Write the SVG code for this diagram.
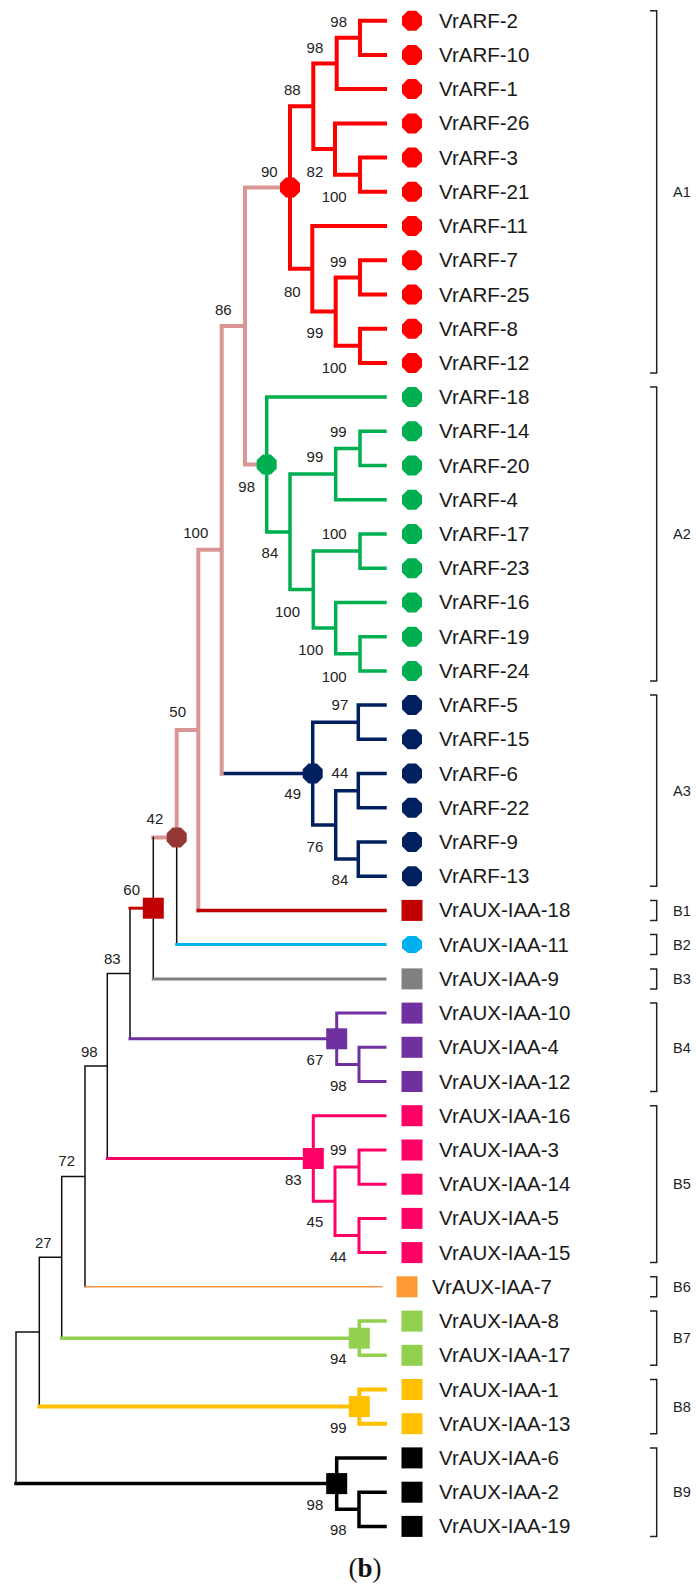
<svg xmlns="http://www.w3.org/2000/svg" width="696" height="1585" viewBox="0 0 696 1585">
<style>
.b{fill:none;stroke-linejoin:miter;stroke-linecap:square}
.lf{font-family:"Liberation Sans",Arial,sans-serif;font-size:20.5px;fill:#1a1a1a}
.bs{font-family:"Liberation Sans",Arial,sans-serif;font-size:15px;fill:#222;text-anchor:end}
.gl{font-family:"Liberation Sans",Arial,sans-serif;font-size:14.5px;fill:#222}
.br{fill:none;stroke:#222;stroke-width:1.5}
</style>
<defs>
<polygon id="oct" points="4.2,-10 10,-4.2 10,4.2 4.2,10 -4.2,10 -10,4.2 -10,-4.2 -4.2,-10"/>
<rect id="sq" x="-10.5" y="-10.5" width="21" height="21"/>
</defs>
<rect width="696" height="1585" fill="#fff"/>
<g id="connectors">
<path class="b" stroke="#FF0000" stroke-width="4" d="M385 20.7H360V54.9H385 M360 37.8H336.7V89.1H385 M385 157.6H360V191.8H385 M385 123.4H335V174.7H360 M336.7 63.4H313.3V149H335 M385 260.2H360V294.5H385 M385 328.7H360V362.9H385 M360 277.4H335.7V345.8H360 M385 226H312.3V311.6H335.7 M313.3 106.2H290V268.8H312.3"/>
<path class="b" stroke="#00B050" stroke-width="3.5" d="M385 431.3H360V465.6H385 M360 448.4H335.7V499.8H385 M385 534H360V568.2H385 M385 636.7H360V670.9H385 M385 602.4H335.7V653.8H360 M360 551.1H313.3V628.1H335.7 M335.7 474.1H290V589.6H313.3 M385 397.1H266.7V531.9H290"/>
<path class="b" stroke="#002060" stroke-width="3.5" d="M385 705.1H358.3V739.3H385 M385 773.5H358.3V807.8H385 M385 842H358.3V876.2H385 M358.3 790.7H335.7V859.1H358.3 M358.3 722.2H312.7V824.9H335.7 M312.7 773.5H221.7"/>
<path class="b" stroke="#D99694" stroke-width="4" d="M290 187.5H245V464.5H266.7 M245 326H221.7V773.5 M221.7 549.8H198.3V910.4 M198.3 730.1H176.7V837.4H153.3"/>
<path class="b" stroke="#C00000" stroke-width="3.5" d="M198.3 910.4H385"/>
<path class="b" stroke="#111" stroke-width="1.5" d="M176.7 837.4V944.6 M153.3 837.4V978.9 M130 908.2V1038.8 M130 973.5H107.3V1158.5 M107.3 1066H85V1286.8 M85 1176.4H61.7V1338.2 M61.7 1257.3H39.3V1406.6 M39.3 1332H16V1483.6"/>
<path class="b" stroke="#00B0F0" stroke-width="3" d="M176.7 944.6H385"/>
<path class="b" stroke="#808080" stroke-width="3" d="M153.3 978.9H385"/>
<path class="b" stroke="#C00000" stroke-width="3" d="M153.3 908.2H130"/>
<path class="b" stroke="#7030A0" stroke-width="3" d="M385 1047.3H359V1081.5H385 M385 1013.1H336.7V1064.4H359 M336.7 1038.8H130"/>
<path class="b" stroke="#FF0066" stroke-width="3" d="M385 1150H359V1184.2H385 M385 1218.4H359V1252.6H385 M359 1167.1H335V1235.5H359 M385 1115.7H313.3V1201.3H335 M313.3 1158.5H107.3"/>
<path class="b" stroke="#F79646" stroke-width="1.5" d="M85 1286.8H381.7"/>
<path class="b" stroke="#92D050" stroke-width="3.5" d="M385 1321.1H359.3V1355.3H385 M359.3 1338.2H61.7"/>
<path class="b" stroke="#FFC000" stroke-width="4" d="M385 1389.5H359.3V1423.7H385 M359.3 1406.6H39.3"/>
<path class="b" stroke="#000" stroke-width="3.5" d="M385 1492.2H359V1526.4H385 M385 1457.9H336.7V1509.3H359 M336.7 1483.6H16"/>
</g>
<g id="internal-nodes">
<use href="#oct" x="290" y="187.5" fill="#FF0000"/>
<use href="#oct" x="266.7" y="464.5" fill="#00B050"/>
<use href="#oct" x="312.7" y="773.5" fill="#002060"/>
<use href="#oct" x="176.7" y="837.4" fill="#953735"/>
<use href="#sq" x="153.3" y="908.2" fill="#C00000"/>
<use href="#sq" x="336.7" y="1038.8" fill="#7030A0"/>
<use href="#sq" x="313.3" y="1158.5" fill="#FF0066"/>
<use href="#sq" x="359.3" y="1338.2" fill="#92D050"/>
<use href="#sq" x="359.3" y="1406.6" fill="#FFC000"/>
<use href="#sq" x="336.7" y="1483.6" fill="#000"/>
</g>
<g id="bootstrap">
<text class="bs" x="347" y="26.7">98</text>
<text class="bs" x="323.3" y="52.7">98</text>
<text class="bs" x="300.7" y="95">88</text>
<text class="bs" x="277.7" y="176.7">90</text>
<text class="bs" x="323.3" y="176.7">82</text>
<text class="bs" x="346.7" y="201.7">100</text>
<text class="bs" x="346.7" y="266.7">99</text>
<text class="bs" x="300.7" y="296.7">80</text>
<text class="bs" x="323.3" y="338">99</text>
<text class="bs" x="346.7" y="373.3">100</text>
<text class="bs" x="231.7" y="315">86</text>
<text class="bs" x="208.3" y="538.3">100</text>
<text class="bs" x="186" y="717.3">50</text>
<text class="bs" x="163.3" y="824.3">42</text>
<text class="bs" x="140" y="895">60</text>
<text class="bs" x="120.7" y="964">83</text>
<text class="bs" x="97.7" y="1056.7">98</text>
<text class="bs" x="75" y="1166">72</text>
<text class="bs" x="51.7" y="1247.7">27</text>
<text class="bs" x="346.7" y="436.7">99</text>
<text class="bs" x="323.3" y="461.7">99</text>
<text class="bs" x="255" y="491.7">98</text>
<text class="bs" x="346.7" y="539.3">100</text>
<text class="bs" x="278.3" y="558.3">84</text>
<text class="bs" x="300" y="616.7">100</text>
<text class="bs" x="323.3" y="655">100</text>
<text class="bs" x="346.7" y="681.7">100</text>
<text class="bs" x="348.3" y="710">97</text>
<text class="bs" x="348.3" y="778.3">44</text>
<text class="bs" x="301" y="799.3">49</text>
<text class="bs" x="323.3" y="851.7">76</text>
<text class="bs" x="348.3" y="885">84</text>
<text class="bs" x="323.3" y="1065">67</text>
<text class="bs" x="346.7" y="1090.7">98</text>
<text class="bs" x="346.7" y="1155">99</text>
<text class="bs" x="301.7" y="1185">83</text>
<text class="bs" x="323.3" y="1227.3">45</text>
<text class="bs" x="346.7" y="1261.7">44</text>
<text class="bs" x="346.7" y="1364">94</text>
<text class="bs" x="346.7" y="1432.7">99</text>
<text class="bs" x="323.3" y="1510">98</text>
<text class="bs" x="346.7" y="1535">98</text>
</g>
<g id="leaves">
<g id="VrARF-2" fill="#FF0000"><use href="#oct" x="412" y="20.7"/><text class="lf" x="439" y="27.7">VrARF-2</text></g>
<g id="VrARF-10" fill="#FF0000"><use href="#oct" x="412" y="54.9"/><text class="lf" x="439" y="61.9">VrARF-10</text></g>
<g id="VrARF-1" fill="#FF0000"><use href="#oct" x="412" y="89.1"/><text class="lf" x="439" y="96.1">VrARF-1</text></g>
<g id="VrARF-26" fill="#FF0000"><use href="#oct" x="412" y="123.4"/><text class="lf" x="439" y="130.4">VrARF-26</text></g>
<g id="VrARF-3" fill="#FF0000"><use href="#oct" x="412" y="157.6"/><text class="lf" x="439" y="164.6">VrARF-3</text></g>
<g id="VrARF-21" fill="#FF0000"><use href="#oct" x="412" y="191.8"/><text class="lf" x="439" y="198.8">VrARF-21</text></g>
<g id="VrARF-11" fill="#FF0000"><use href="#oct" x="412" y="226"/><text class="lf" x="439" y="233">VrARF-11</text></g>
<g id="VrARF-7" fill="#FF0000"><use href="#oct" x="412" y="260.2"/><text class="lf" x="439" y="267.2">VrARF-7</text></g>
<g id="VrARF-25" fill="#FF0000"><use href="#oct" x="412" y="294.5"/><text class="lf" x="439" y="301.5">VrARF-25</text></g>
<g id="VrARF-8" fill="#FF0000"><use href="#oct" x="412" y="328.7"/><text class="lf" x="439" y="335.7">VrARF-8</text></g>
<g id="VrARF-12" fill="#FF0000"><use href="#oct" x="412" y="362.9"/><text class="lf" x="439" y="369.9">VrARF-12</text></g>
<g id="VrARF-18" fill="#00B050"><use href="#oct" x="412" y="397.1"/><text class="lf" x="439" y="404.1">VrARF-18</text></g>
<g id="VrARF-14" fill="#00B050"><use href="#oct" x="412" y="431.3"/><text class="lf" x="439" y="438.3">VrARF-14</text></g>
<g id="VrARF-20" fill="#00B050"><use href="#oct" x="412" y="465.6"/><text class="lf" x="439" y="472.6">VrARF-20</text></g>
<g id="VrARF-4" fill="#00B050"><use href="#oct" x="412" y="499.8"/><text class="lf" x="439" y="506.8">VrARF-4</text></g>
<g id="VrARF-17" fill="#00B050"><use href="#oct" x="412" y="534"/><text class="lf" x="439" y="541">VrARF-17</text></g>
<g id="VrARF-23" fill="#00B050"><use href="#oct" x="412" y="568.2"/><text class="lf" x="439" y="575.2">VrARF-23</text></g>
<g id="VrARF-16" fill="#00B050"><use href="#oct" x="412" y="602.4"/><text class="lf" x="439" y="609.4">VrARF-16</text></g>
<g id="VrARF-19" fill="#00B050"><use href="#oct" x="412" y="636.7"/><text class="lf" x="439" y="643.7">VrARF-19</text></g>
<g id="VrARF-24" fill="#00B050"><use href="#oct" x="412" y="670.9"/><text class="lf" x="439" y="677.9">VrARF-24</text></g>
<g id="VrARF-5" fill="#002060"><use href="#oct" x="412" y="705.1"/><text class="lf" x="439" y="712.1">VrARF-5</text></g>
<g id="VrARF-15" fill="#002060"><use href="#oct" x="412" y="739.3"/><text class="lf" x="439" y="746.3">VrARF-15</text></g>
<g id="VrARF-6" fill="#002060"><use href="#oct" x="412" y="773.5"/><text class="lf" x="439" y="780.5">VrARF-6</text></g>
<g id="VrARF-22" fill="#002060"><use href="#oct" x="412" y="807.8"/><text class="lf" x="439" y="814.8">VrARF-22</text></g>
<g id="VrARF-9" fill="#002060"><use href="#oct" x="412" y="842"/><text class="lf" x="439" y="849">VrARF-9</text></g>
<g id="VrARF-13" fill="#002060"><use href="#oct" x="412" y="876.2"/><text class="lf" x="439" y="883.2">VrARF-13</text></g>
<g id="VrAUX-IAA-18" fill="#C00000"><use href="#sq" x="412" y="910.4"/><text class="lf" x="439" y="917.4">VrAUX-IAA-18</text></g>
<g id="VrAUX-IAA-11" fill="#00B0F0"><use href="#oct" transform="translate(412 944.6) scale(1 0.85)"/><text class="lf" x="439" y="951.6">VrAUX-IAA-11</text></g>
<g id="VrAUX-IAA-9" fill="#808080"><use href="#sq" x="412" y="978.9"/><text class="lf" x="439" y="985.9">VrAUX-IAA-9</text></g>
<g id="VrAUX-IAA-10" fill="#7030A0"><use href="#sq" x="412" y="1013.1"/><text class="lf" x="439" y="1020.1">VrAUX-IAA-10</text></g>
<g id="VrAUX-IAA-4" fill="#7030A0"><use href="#sq" x="412" y="1047.3"/><text class="lf" x="439" y="1054.3">VrAUX-IAA-4</text></g>
<g id="VrAUX-IAA-12" fill="#7030A0"><use href="#sq" x="412" y="1081.5"/><text class="lf" x="439" y="1088.5">VrAUX-IAA-12</text></g>
<g id="VrAUX-IAA-16" fill="#FF0066"><use href="#sq" x="412" y="1115.7"/><text class="lf" x="439" y="1122.7">VrAUX-IAA-16</text></g>
<g id="VrAUX-IAA-3" fill="#FF0066"><use href="#sq" x="412" y="1150"/><text class="lf" x="439" y="1157">VrAUX-IAA-3</text></g>
<g id="VrAUX-IAA-14" fill="#FF0066"><use href="#sq" x="412" y="1184.2"/><text class="lf" x="439" y="1191.2">VrAUX-IAA-14</text></g>
<g id="VrAUX-IAA-5" fill="#FF0066"><use href="#sq" x="412" y="1218.4"/><text class="lf" x="439" y="1225.4">VrAUX-IAA-5</text></g>
<g id="VrAUX-IAA-15" fill="#FF0066"><use href="#sq" x="412" y="1252.6"/><text class="lf" x="439" y="1259.6">VrAUX-IAA-15</text></g>
<g id="VrAUX-IAA-7" fill="#FF9933"><use href="#sq" x="407" y="1286.8"/><text class="lf" x="432" y="1293.8">VrAUX-IAA-7</text></g>
<g id="VrAUX-IAA-8" fill="#92D050"><use href="#sq" x="412" y="1321.1"/><text class="lf" x="439" y="1328.1">VrAUX-IAA-8</text></g>
<g id="VrAUX-IAA-17" fill="#92D050"><use href="#sq" x="412" y="1355.3"/><text class="lf" x="439" y="1362.3">VrAUX-IAA-17</text></g>
<g id="VrAUX-IAA-1" fill="#FFC000"><use href="#sq" x="412" y="1389.5"/><text class="lf" x="439" y="1396.5">VrAUX-IAA-1</text></g>
<g id="VrAUX-IAA-13" fill="#FFC000"><use href="#sq" x="412" y="1423.7"/><text class="lf" x="439" y="1430.7">VrAUX-IAA-13</text></g>
<g id="VrAUX-IAA-6" fill="#000"><use href="#sq" x="412" y="1457.9"/><text class="lf" x="439" y="1464.9">VrAUX-IAA-6</text></g>
<g id="VrAUX-IAA-2" fill="#000"><use href="#sq" x="412" y="1492.2"/><text class="lf" x="439" y="1499.2">VrAUX-IAA-2</text></g>
<g id="VrAUX-IAA-19" fill="#000"><use href="#sq" x="412" y="1526.4"/><text class="lf" x="439" y="1533.4">VrAUX-IAA-19</text></g>
</g>
<g id="groups">
<path class="br" d="M650 10.7H656.7V372.9H650"/><text class="gl" x="673" y="197">A1</text>
<path class="br" d="M650 387.1H656.7V680.9H650"/><text class="gl" x="673" y="539">A2</text>
<path class="br" d="M650 695.1H656.7V886.2H650"/><text class="gl" x="673" y="796">A3</text>
<path class="br" d="M650 900.4H656.7V920.4H650"/><text class="gl" x="673" y="915.6">B1</text>
<path class="br" d="M650 934.6H656.7V954.6H650"/><text class="gl" x="673" y="949.8">B2</text>
<path class="br" d="M650 968.9H656.7V988.9H650"/><text class="gl" x="673" y="984.1">B3</text>
<path class="br" d="M650 1003.1H656.7V1091.5H650"/><text class="gl" x="673" y="1052.5">B4</text>
<path class="br" d="M650 1105.7H656.7V1262.6H650"/><text class="gl" x="673" y="1189.4">B5</text>
<path class="br" d="M650 1276.8H656.7V1296.8H650"/><text class="gl" x="673" y="1292">B6</text>
<path class="br" d="M650 1311.1H656.7V1365.3H650"/><text class="gl" x="673" y="1343.4">B7</text>
<path class="br" d="M650 1379.5H656.7V1433.7H650"/><text class="gl" x="673" y="1411.8">B8</text>
<path class="br" d="M650 1447.9H656.7V1536.4H650"/><text class="gl" x="673" y="1497.4">B9</text>
</g>
<text x="365" y="1577" text-anchor="middle" font-family="'Liberation Serif','Times New Roman',serif" font-size="27" fill="#111">(<tspan font-weight="bold">b</tspan>)</text>
</svg>
